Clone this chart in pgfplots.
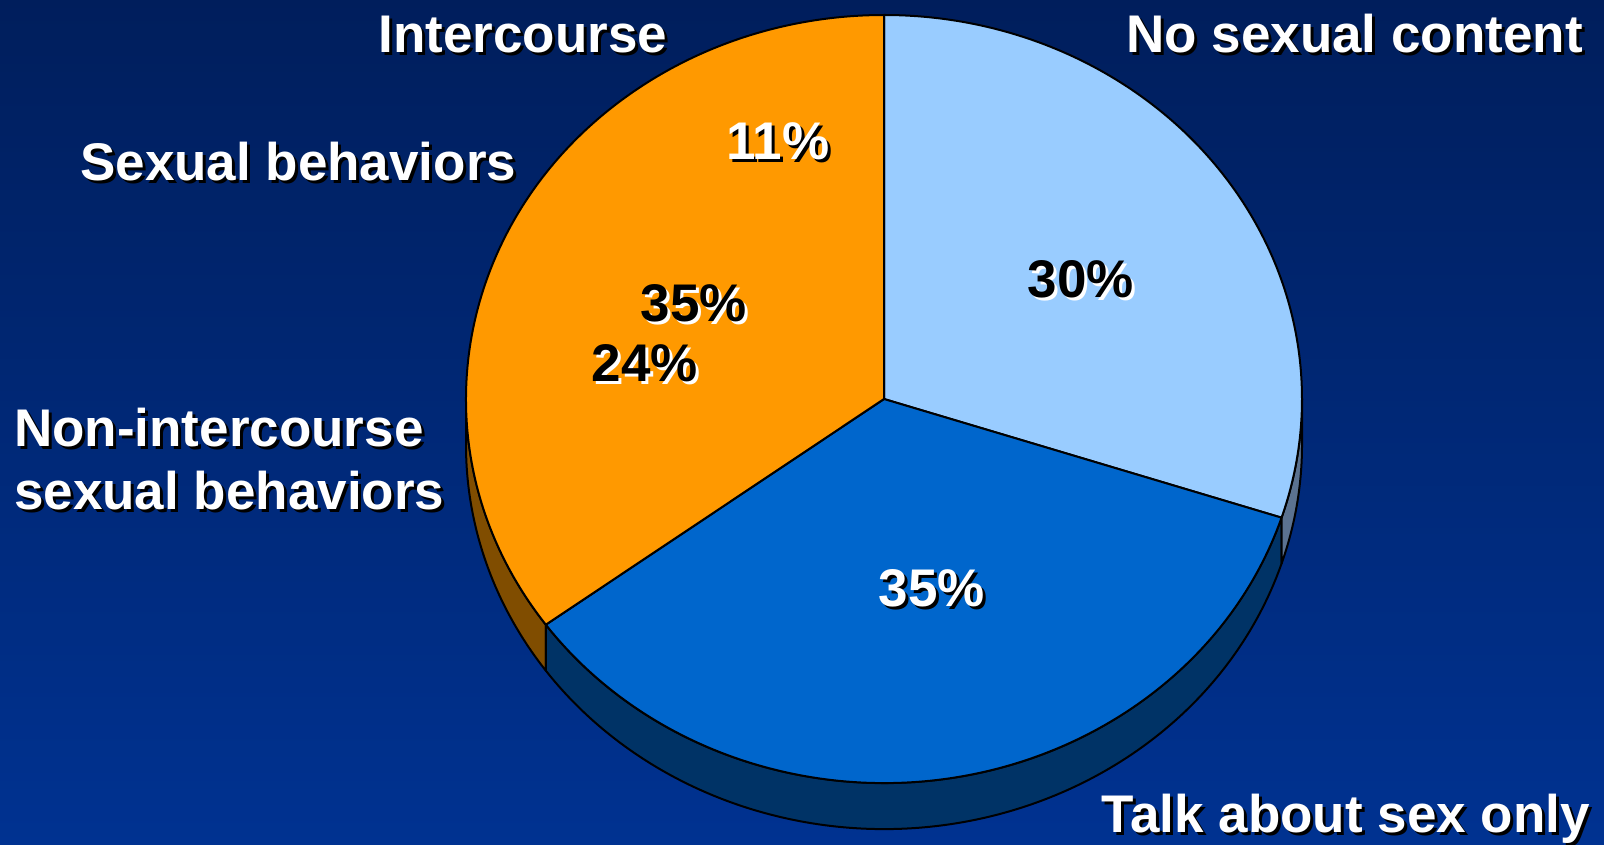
\documentclass[border=0pt]{standalone}
\usepackage{fontspec}
\setmainfont{Liberation Sans}
\usepackage{pgfplots}
\pgfplotsset{compat=1.18}

\definecolor{bgtop}{RGB}{0,30,92}
\definecolor{bgbot}{RGB}{0,50,145}
\definecolor{cLight}{RGB}{153,204,255}
\definecolor{cBlue}{RGB}{0,102,204}
\definecolor{cOrange}{RGB}{255,153,0}
\definecolor{sLight}{RGB}{91,114,144}
\definecolor{sBlue}{RGB}{0,51,102}
\definecolor{sOrange}{RGB}{128,77,0}

% slice shares (percent), clockwise from 12 o'clock
\def\vA{30} % No sexual content
\def\vB{35} % Talk about sex only
\def\vC{35} % Sexual behaviors
\pgfmathsetmacro\aA{90}
\pgfmathsetmacro\aB{\aA-3.6*\vA}
\pgfmathsetmacro\aC{\aB-3.6*\vB}
\pgfmathsetmacro\aD{\aC-3.6*\vC}

% shadowed text: position, anchor, text colour, shadow colour, text
\newcommand\stxt[5]{%
  \node[anchor=#2,text=#4,xshift=3pt,yshift=-3pt] at (axis cs:#1) {#5};
  \node[anchor=#2,text=#3] at (axis cs:#1) {#5};}

\begin{document}
\begin{tikzpicture}[every node/.style={font=\fontsize{53}{60}\selectfont\bfseries,inner sep=0pt}]
\shade[top color=bgtop,bottom color=bgbot] (0,0) rectangle (1604pt,844pt);
\begin{axis}[at={(0,0)},anchor=south west,scale only axis,width=1604pt,height=844pt,
  xmin=0,xmax=1604,ymin=0,ymax=844,hide axis,clip=false]
\begin{scope}[shift={(axis cs:884,445)},line width=2pt,line join=round,draw=black]
  % sides
  \filldraw[fill=sOrange] (-180:418pt and 384pt) arc[start angle=-180,end angle=\aC,x radius=418pt,y radius=384pt]
    -- ++(0,-46pt) arc[start angle=\aC,end angle=-180,x radius=418pt,y radius=384pt] -- cycle;
  \filldraw[fill=sBlue] (\aC:418pt and 384pt) arc[start angle=\aC,end angle=\aB,x radius=418pt,y radius=384pt]
    -- ++(0,-46pt) arc[start angle=\aB,end angle=\aC,x radius=418pt,y radius=384pt] -- cycle;
  \filldraw[fill=sLight] (\aB:418pt and 384pt) arc[start angle=\aB,end angle=0,x radius=418pt,y radius=384pt]
    -- ++(0,-46pt) arc[start angle=0,end angle=\aB,x radius=418pt,y radius=384pt] -- cycle;
  % top faces
  \filldraw[fill=cLight] (0,0) -- (\aA:418pt and 384pt) arc[start angle=\aA,end angle=\aB,x radius=418pt,y radius=384pt] -- cycle;
  \filldraw[fill=cBlue] (0,0) -- (\aB:418pt and 384pt) arc[start angle=\aB,end angle=\aC,x radius=418pt,y radius=384pt] -- cycle;
  \filldraw[fill=cOrange] (0,0) -- (\aC:418pt and 384pt) arc[start angle=\aC,end angle=\aD,x radius=418pt,y radius=384pt] -- cycle;
\end{scope}
% percentages
\stxt{778,684}{base}{white}{black}{11\%}
\stxt{694,522}{base}{black}{white}{35\%}
\stxt{645,462}{base}{black}{white}{24\%}
\stxt{1081,546}{base}{black}{white}{30\%}
\stxt{932,237}{base}{white}{black}{35\%}
% category labels
\stxt{523,791}{base}{white}{black}{Intercourse}
\stxt{1583,791}{base east}{white}{black}{No sexual content}
\stxt{80,663}{base west}{white}{black}{Sexual behaviors}
\stxt{14,397}{base west}{white}{black}{Non-intercourse}
\stxt{14,334}{base west}{white}{black}{sexual behaviors}
\stxt{1590,12}{base east}{white}{black}{Talk about sex only}
\end{axis}
\pgfresetboundingbox
\path[use as bounding box] (0,0) rectangle (1604pt,844pt);
\end{tikzpicture}
\end{document}
